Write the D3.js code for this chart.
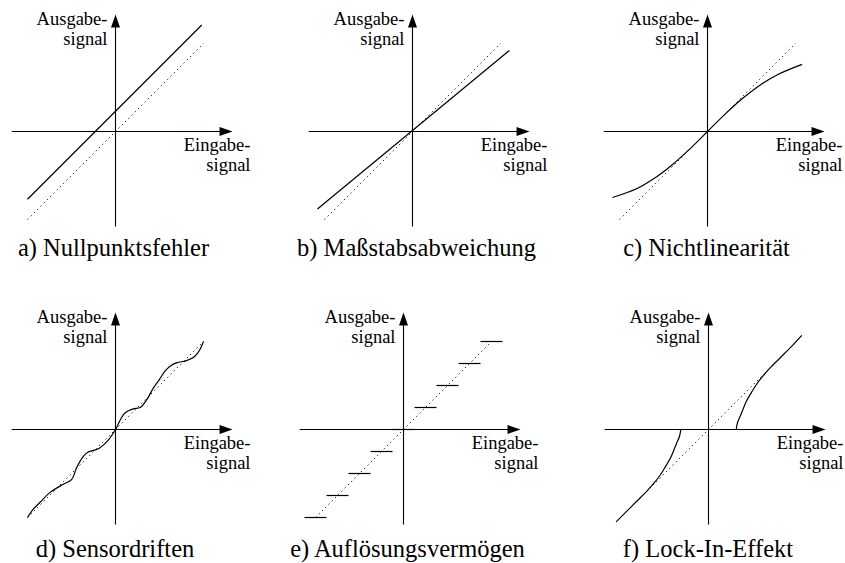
<!DOCTYPE html>
<html>
<head>
<meta charset="utf-8">
<script src="https://cdn.jsdelivr.net/npm/d3@7"></script>
<style>
  html, body { margin: 0; padding: 0; background: #fff; }
  svg { display: block; }
</style>
</head>
<body>
<svg id="chart" width="845" height="563"></svg>
<script>
// ---- data (input / output in normalised units, ideal characteristic y = x) ----
const captions = [
  "a) Nullpunktsfehler",
  "b) Maßstabsabweichung",
  "c) Nichtlinearität",
  "d) Sensordriften",
  "e) Auflösungsvermögen",
  "f) Lock-In-Effekt"
];
const yAxisLabel = ["Ausgabe-", "signal"];
const xAxisLabel = ["Eingabe-", "signal"];

// ideal characteristic (dotted)
const idealX = [-1, 1];
const idealY = [-1, 1];

// a) zero-point offset
const offsetX = [-1.0, 0.98];
const offsetY = [-0.77, 1.21];

// b) scale-factor error
const scaleX = [-1.08, 1.10];
const scaleY = [-0.88, 0.92];

// c) non-linearity
const nonlinX = [-1.08, -0.8, -0.6, -0.4, -0.2, 0, 0.2, 0.4, 0.6, 0.8, 1.075];
const nonlinY = [-0.75, -0.648, -0.529, -0.377, -0.197, 0, 0.197, 0.377, 0.529, 0.648, 0.763];

// d) drift
const driftX = [-1.0, -0.93, -0.86, -0.75, -0.6, -0.5, -0.44, -0.37, -0.31, -0.24, -0.18, -0.09, 0,
                0.06, 0.11, 0.2, 0.28, 0.35, 0.43, 0.5, 0.56, 0.62, 0.7, 0.8, 0.9, 0.96, 1.0];
const driftY = [-1.0, -0.9, -0.83, -0.72, -0.625, -0.57, -0.43, -0.31, -0.255, -0.235, -0.21, -0.13, 0,
                0.12, 0.19, 0.235, 0.25, 0.33, 0.47, 0.57, 0.66, 0.72, 0.76, 0.78, 0.83, 0.91, 1.0];

// e) resolution: quantisation levels and step width
const stepLevels = [-1, -0.75, -0.5, -0.25, 0, 0.25, 0.5, 0.75, 1];
const stepWidth = 0.25;

// f) lock-in: two branches outside the dead zone
const lockRightX = [0.315, 0.33, 0.36, 0.40, 0.435, 0.5, 0.55, 0.62, 0.70, 0.81, 0.93, 1.06];
const lockRightY = [0, 0.08, 0.15, 0.25, 0.33, 0.44, 0.52, 0.61, 0.70, 0.81, 0.93, 1.07];
const lockLeftX = [-0.315, -0.33, -0.36, -0.40, -0.435, -0.5, -0.55, -0.62, -0.70, -0.81, -0.93, -1.05];
const lockLeftY = [0, -0.08, -0.15, -0.25, -0.33, -0.44, -0.52, -0.61, -0.70, -0.81, -0.93, -1.05];

// ---- layout ----
const FONT = '"Liberation Serif", "Times New Roman", Times, serif';
const U = 88;                // pixels per unit
const axisExt = { xMin: -1.18, xMax: 1.33, yMin: -1.08, yMax: 1.33 };
const panels = [
  { ox: 115.5, oy: 131.5, cx: 113.5, cy: 256 },
  { ox: 412.5, oy: 131.5, cx: 416.5, cy: 256 },
  { ox: 707.5, oy: 131.5, cx: 706.5, cy: 256 },
  { ox: 115.5, oy: 429.5, cx: 115,   cy: 557 },
  { ox: 403.5, oy: 429.5, cx: 407.5, cy: 557 },
  { ox: 708.5, oy: 429.5, cx: 708,   cy: 557 }
];

const svg = d3.select("#chart");
const zip = (xs, ys) => xs.map((v, i) => [v, ys[i]]);

function label(g, x, y, size, anchor, t) {
  g.append("text").attr("x", x).attr("y", y)
    .attr("text-anchor", anchor)
    .style("font-family", FONT)
    .attr("font-size", size).attr("fill", "#000").text(t);
}

function panel(p, caption, drawMarks) {
  const g = svg.append("g");
  const x = d3.scaleLinear().domain([-1, 1]).range([p.ox - U, p.ox + U]);
  const y = d3.scaleLinear().domain([-1, 1]).range([p.oy + U, p.oy - U]);

  // axes with arrow heads
  const head = 13, half = 4.5;
  g.append("line")
    .attr("x1", x(axisExt.xMin)).attr("y1", y(0))
    .attr("x2", x(axisExt.xMax) - head + 1).attr("y2", y(0))
    .attr("stroke", "#000").attr("stroke-width", 1.1);
  g.append("path")
    .attr("d", `M${x(axisExt.xMax)},${y(0)} L${x(axisExt.xMax) - head},${y(0) - half} L${x(axisExt.xMax) - head},${y(0) + half} Z`)
    .attr("fill", "#000");
  g.append("line")
    .attr("x1", x(0)).attr("y1", y(axisExt.yMin))
    .attr("x2", x(0)).attr("y2", y(axisExt.yMax) + head - 1)
    .attr("stroke", "#000").attr("stroke-width", 1.1);
  g.append("path")
    .attr("d", `M${x(0)},${y(axisExt.yMax)} L${x(0) - half},${y(axisExt.yMax) + head} L${x(0) + half},${y(axisExt.yMax) + head} Z`)
    .attr("fill", "#000");

  // axis titles
  yAxisLabel.forEach((t, i) => label(g, x(0) - 8, y(0) - 107 + i * 20, 18.5, "end", t));
  xAxisLabel.forEach((t, i) => label(g, x(0) + 135, y(0) + 19 + i * 20, 18.5, "end", t));

  // caption
  label(g, p.cx, p.cy, 24.5, "middle", caption);

  drawMarks(g, x, y);
}

function ideal(g, x, y) {
  g.append("path")
    .attr("d", d3.line().x(d => x(d[0])).y(d => y(d[1]))(zip(idealX, idealY)))
    .attr("fill", "none").attr("stroke", "#000").attr("stroke-width", 1)
    .attr("stroke-dasharray", "1.2,3.4");
}

function solid(g, x, y, pts, curve) {
  g.append("path")
    .attr("d", d3.line().x(d => x(d[0])).y(d => y(d[1])).curve(curve || d3.curveLinear)(pts))
    .attr("fill", "none").attr("stroke", "#000").attr("stroke-width", 1.2);
}

panel(panels[0], captions[0], (g, x, y) => {
  ideal(g, x, y);
  solid(g, x, y, zip(offsetX, offsetY));
});
panel(panels[1], captions[1], (g, x, y) => {
  ideal(g, x, y);
  solid(g, x, y, zip(scaleX, scaleY));
});
panel(panels[2], captions[2], (g, x, y) => {
  ideal(g, x, y);
  solid(g, x, y, zip(nonlinX, nonlinY), d3.curveCatmullRom);
});
panel(panels[3], captions[3], (g, x, y) => {
  ideal(g, x, y);
  solid(g, x, y, zip(driftX, driftY), d3.curveCatmullRom);
});
panel(panels[4], captions[4], (g, x, y) => {
  ideal(g, x, y);
  g.selectAll("line.step").data(stepLevels).join("line")
    .attr("class", "step")
    .attr("x1", d => x(d - stepWidth / 2)).attr("x2", d => x(d + stepWidth / 2))
    .attr("y1", d => y(d)).attr("y2", d => y(d))
    .attr("stroke", "#000").attr("stroke-width", 1.2);
});
panel(panels[5], captions[5], (g, x, y) => {
  ideal(g, x, y);
  solid(g, x, y, zip(lockRightX, lockRightY), d3.curveCatmullRom);
  solid(g, x, y, zip(lockLeftX, lockLeftY), d3.curveCatmullRom);
});
</script>
</body>
</html>
